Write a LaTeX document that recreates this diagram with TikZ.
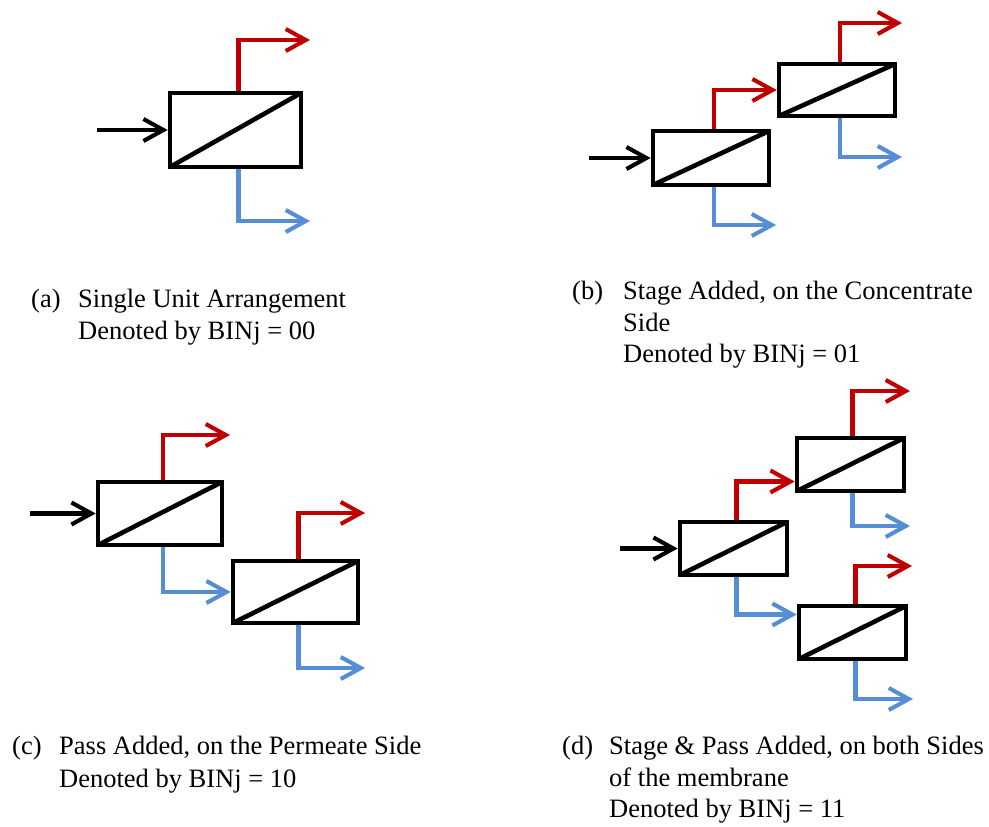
\documentclass[tikz,border=0pt]{standalone}
\usepackage{fontspec}
\setmainfont{Liberation Serif}
\usetikzlibrary{arrows.meta}
\definecolor{concred}{RGB}{192,0,0}
\definecolor{permblue}{RGB}{85,142,213}
\begin{document}
\begin{tikzpicture}[x=1pt,y=-1pt,
  membrane/.style 2 args={draw, line width=4.6pt, inner sep=0pt,
    minimum width=#1pt, minimum height=#2pt,
    path picture={\draw[line width=4.6pt]
      (path picture bounding box.south west) -- (path picture bounding box.north east);}},
  flow/.style={line width=4.1pt, -{Straight Barb[length=20pt,width=22pt]}},
  feed/.style={flow, draw=black},
  conc/.style={flow, draw=concred},
  perm/.style={flow, draw=permblue},
  lbl/.style={anchor=base west, inner sep=0pt, font=\fontsize{26.5}{32}\selectfont}]

\fill[white] (0,0) rectangle (989,827);
\useasboundingbox (0,0) rectangle (989,827);

% ---------- (a) single unit ----------
\node[membrane={131}{74}] (a1) at (235.5,130) {};
\coordinate (a-in) at (97,130);
\coordinate (a-c)  at (310,40);
\coordinate (a-p)  at (310,221);
\draw[feed] (a-in) -- (a1.west);
\draw[conc] ([xshift=3pt]a1.north) |- (a-c);
\draw[perm] ([xshift=3pt]a1.south) |- (a-p);

\node[lbl] (a-tag) at (31,307) {(a)};
\node[lbl] (a-l1) at (78,307) {Single Unit Arrangement};
\node[lbl] (a-l2) at (78,339) {Denoted by BINj = 00};

% ---------- (b) stage on the concentrate side ----------
\node[membrane={116}{54}] (b1) at (711,158) {};
\node[membrane={116}{52}] (b2) at (837,90) {};
\coordinate (b-in) at (589,158);
\coordinate (b1-p) at (776,225);
\coordinate (b2-c) at (902,23);
\coordinate (b2-p) at (902,157);
\draw[feed] (b-in) -- (b1.west);
\draw[conc] ([xshift=3pt]b1.north) |- (b2.west);
\draw[perm] ([xshift=3pt]b1.south) |- (b1-p);
\draw[conc] ([xshift=3pt]b2.north) |- (b2-c);
\draw[perm] ([xshift=3pt]b2.south) |- (b2-p);

\node[lbl] (b-tag) at (572,299) {(b)};
\node[lbl] (b-l1) at (623,299) {Stage Added, on the Concentrate};
\node[lbl] (b-l2) at (623,331) {Side};
\node[lbl] (b-l3) at (623,362) {Denoted by BINj = 01};

% ---------- (c) pass on the permeate side ----------
\node[membrane={124}{63}] (c1) at (160,513.5) {};
\node[membrane={125}{62}] (c2) at (295.5,592) {};
\coordinate (c-in) at (30,513.5);
\coordinate (c1-c) at (230,435);
\coordinate (c2-c) at (365,513);
\coordinate (c2-p) at (365,668);
\draw[feed] (c-in) -- (c1.west);
\draw[conc] ([xshift=3pt]c1.north) |- (c1-c);
\draw[perm] ([xshift=3pt]c1.south) |- (c2.west);
\draw[conc] ([xshift=3pt]c2.north) |- (c2-c);
\draw[perm] ([xshift=3pt]c2.south) |- (c2-p);

\begin{scope}
  \clip (0,700) rectangle (545,792);
  \node[lbl] (c-tag) at (12,754) {(c)};
  \node[lbl] (c-l1) at (59,754) {Pass Added, on the Permeate Side};
  \node[lbl] (c-l2) at (59,787) {Denoted by BINj = 10};
\end{scope}

% ---------- (d) stage and pass ----------
\node[membrane={107}{53}] (d1) at (733.5,548.5) {};
\node[membrane={107}{53}] (d2) at (850.5,464.5) {};
\node[membrane={107}{53}] (d3) at (852.5,632.5) {};
\coordinate (d-in) at (620,548.5);
\coordinate (d2-c) at (910,391);
\coordinate (d2-p) at (910,526);
\coordinate (d3-c) at (912,566);
\coordinate (d3-p) at (913,699);
\draw[feed] (d-in) -- (d1.west);
\draw[conc] ([xshift=3pt]d1.north) |- ([yshift=-17pt]d2.west);
\draw[perm] ([xshift=3pt]d1.south) |- ([yshift=18pt]d3.west);
\draw[conc] ([xshift=2pt]d2.north) |- (d2-c);
\draw[perm] ([xshift=2pt]d2.south) |- (d2-p);
\draw[conc] ([xshift=3pt]d3.north) |- (d3-c);
\draw[perm] ([xshift=3pt]d3.south) |- (d3-p);

\node[lbl] (d-tag) at (562,754) {(d)};
\node[lbl] (d-l1) at (609,754) {Stage \& Pass Added, on both Sides};
\node[lbl] (d-l2) at (609,786) {of the membrane};
\node[lbl] (d-l3) at (609,817) {Denoted by BINj = 11};

\end{tikzpicture}
\end{document}
